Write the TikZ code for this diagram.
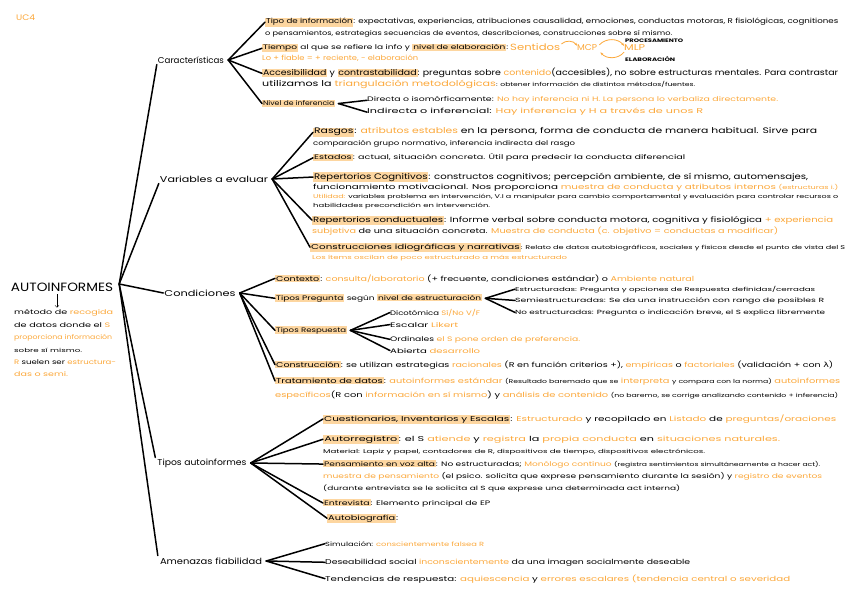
\documentclass[tikz,border=0pt]{standalone}
\usepackage{fontspec}
\setmainfont{Poppins}
\newfontfamily\griega{DejaVu Sans}
\usepackage{graphicx}
\usetikzlibrary{arrows.meta, positioning}
\definecolor{notanaranja}{RGB}{252,168,58}
\definecolor{resaltado}{RGB}{253,214,160}
\newsavebox{\cajalinea}
\newcommand{\og}[1]{\textcolor{notanaranja}{#1}}
\newcommand{\hl}[1]{{\setlength{\fboxsep}{0.7pt}\colorbox{resaltado}{#1}}}
\newcommand{\tam}[1]{\fontsize{#1}{#1}\selectfont}

\begin{document}
\begin{tikzpicture}[
    x=1pt, y=-1pt,
    ancho/.style={execute at begin node={\setbox\cajalinea=\hbox\bgroup},
                  execute at end node={\egroup\resizebox{#1pt}{\height}{\usebox{\cajalinea}}}},
    linea/.style={anchor=base west, inner sep=0pt, font=\tam{7}, ancho=#1},
    tema/.style={font=\tam{8.5}, inner sep=1pt, ancho=#1},
    rama/.style={line width=1.5pt, line cap=round},
    flecha/.style={-{Stealth[length=3pt]}, notanaranja, line width=0.8pt}
]
    \useasboundingbox (0,0) rectangle (848,599);
    \fill[white] (0,0) rectangle (848,599);

    % raiz
    \node[linea=19, font=\tam{8}, text=notanaranja] (uc) at (16,21) {UC4};
    \node[font=\tam{12}, inner sep=1pt, ancho=102] (auto) at (62,287) {AUTOINFORMES};
    \node[linea=99, font=\tam{6.5}] (d1) at (14,314) {método de \og{recogida}};
    \node[linea=96, font=\tam{6.5}] (d2) at (14,327) {de datos donde el \og{S}};
    \node[linea=98, font=\tam{6.5}, text=notanaranja] (d3) at (14,339) {proporciona información};
    \node[linea=68, font=\tam{5.5}] (d4) at (14,352) {sobre sí mismo.};
    \node[linea=102, font=\tam{6.5}] (d5) at (14,364) {\og{R} suelen ser \og{estructura-}};
    \node[linea=54, font=\tam{6.5}, text=notanaranja] (d6) at (14,376) {das o semi.};
    \draw[-{Straight Barb[length=2pt]}, line width=0.5pt] ([xshift=-5pt, yshift=-2pt]auto.south) -- ([xshift=-5pt, yshift=1pt]auto.south |- d1.north);
    \coordinate (raiz) at ([xshift=5pt, yshift=3pt]auto.east);

    % temas
    \node[tema=66] (car) at (191,60) {Características};
    \node[tema=108] (var) at (214,179) {Variables a evaluar};
    \node[tema=71] (cond) at (200,293) {Condiciones};
    \node[tema=89] (tipos) at (202,463) {Tipos autoinformes};
    \node[tema=102] (amen) at (211,561) {Amenazas fiabilidad};
    \draw[rama] (raiz) -- (car.south west);
    \draw[rama] (raiz) -- (var.south west);
    \draw[rama] (raiz) -- (cond.west);
    \draw[rama] (raiz) -- ([xshift=-1pt]tipos.north west);
    \draw[rama] (raiz) -- ([xshift=-1pt, yshift=1pt]amen.north west);

    % Caracteristicas
    \node[linea=573] (tipo) at (265,24) {\hl{Tipo de información}: expectativas, experiencias, atribuciones causalidad, emociones, conductas motoras, R fisiológicas, cognitiones};
    \node[linea=407, font=\tam{6.5}] (tipoB) at (265,36) {o pensamientos, estrategias secuencias de eventos, describciones, construcciones sobre sí mismo.};
    \node[linea=246, font=\tam{6.5}] (tiempo) at (262,50) {\hl{Tiempo} al que se refiere la info y \hl{nivel de elaboración}:};
    \node[linea=50, font=\tam{9}, text=notanaranja] (sentidos) at (510,51) {Sentidos};
    \node[linea=20, font=\tam{8.5}, text=notanaranja] (mcp) at (577,51) {MCP};
    \node[linea=21, font=\tam{8.5}, text=notanaranja] (mlp) at (624,51) {MLP};
    \node[linea=58, font=\tam{5}\bfseries] (proc) at (625,43) {PROCESAMIENTO};
    \node[linea=50, font=\tam{5}\bfseries] (elab) at (625,62) {ELABORACIÓN};
    \draw[flecha] ([xshift=1pt]sentidos.north east) to[bend left=50] ([yshift=-1pt]mcp.north west);
    \draw[flecha] ([xshift=2pt]mcp.north east) to[bend left=50] ([yshift=-1pt]mlp.north west);
    \draw[flecha] ([yshift=-1pt]mlp.south west) to[bend left=50] ([xshift=3pt,yshift=-1pt]mcp.south east);
    \node[linea=156, text=notanaranja] (tiempoB) at (262,61) {Lo + fiable = + reciente, - elaboración};
    \node[linea=576, font=\tam{8}] (acc) at (262,76) {\hl{Accesibilidad} y \hl{contrastabilidad}: preguntas sobre \og{contenido}(accesibles), no sobre estructuras mentales. Para contrastar};
    \node[linea=433, font=\tam{8}] (accB) at (262,87) {utilizamos la \og{triangulación metodológicas}{\tam{5.5}: obtener información de distintos métodos/fuentes.}};
    \node[linea=73, font=\tam{6.5}] (nivel) at (262,106) {\hl{Nivel de inferencia}};
    \node[linea=411, font=\tam{6.5}] (directa) at (367,102) {Directa o isomórficamente: \og{No hay inferencia ni H. La persona lo verbaliza directamente.}};
    \node[linea=336] (indirecta) at (367,114) {Indirecta o inferencial: \og{Hay inferencia y H a través de unos R}};
    \coordinate (carF) at ([xshift=3pt]car.east);
    \foreach \n in {tipo, tiempo, acc, nivel}
        \draw[rama] (carF) -- (\n.west);
    \coordinate (nivelF) at ([xshift=3pt]nivel.east);
    \draw[rama] (nivelF) -- (directa.west);
    \draw[rama] (nivelF) -- (indirecta.west);

    % Variables a evaluar
    \node[linea=504, font=\tam{8}] (rasgos) at (313,134) {\hl{Rasgos}: \og{atributos estables} en la persona, forma de conducta de manera habitual. Sirve para};
    \node[linea=262, font=\tam{6.5}] (rasgosB) at (313,145) {comparación grupo normativo, inferencia indirecta del rasgo};
    \node[linea=372, font=\tam{6.5}] (estados) at (313,160) {\hl{Estados}: actual, situación concreta. Útil para predecir la conducta diferencial};
    \node[linea=495, font=\tam{8}] (cogn) at (313,179) {\hl{Repertorios Cognitivos}: constructos cognitivos; percepción ambiente, de sí mismo, automensajes,};
    \node[linea=525] (cognB) at (313,189) {funcionamiento motivacional. Nos proporciona \og{muestra de conducta y atributos internos {\tam{5.5}(estructuras i.)}}};
    \node[linea=525, font=\tam{5.5}] (cognC) at (313,198) {\og{Utilidad:} variables problema en intervención, V.I a manipular para cambio comportamental y evaluación para controlar recursos o};
    \node[linea=177, font=\tam{5.5}] (cognD) at (313,207) {habilidades precondición en intervención.};
    \node[linea=521, font=\tam{7.5}] (conduc) at (312,222) {\hl{Repertorios conductuales}: Informe verbal sobre conducta motora, cognitiva y fisiológica \og{+ experiencia}};
    \node[linea=466] (conducB) at (312,233) {\og{subjetiva} de una situación concreta. \og{Muestra de conducta (c. objetivo = conductas a modificar)}};
    \node[linea=535] (constr) at (310,249) {\hl{Construcciones idiográficas y narrativas}{\tam{5.5}: Relato de datos autobiográficos, sociales y físicos desde el punto de vista del S}};
    \node[linea=255, font=\tam{5.5}, text=notanaranja] (constrB) at (312,259) {Los ítems oscilan de poco estructurado a más estructurado};
    \coordinate (varF) at ([xshift=3pt]var.east);
    \foreach \n in {rasgos, estados, cogn, conduc, constr}
        \draw[rama] (varF) -- (\n.west);

    % Condiciones
    \node[linea=419] (contexto) at (275,281) {\hl{Contexto}: \og{consulta/laboratorio} (+ frecuente, condiciones estándar) o \og{Ambiente natural}};
    \node[linea=207, font=\tam{6.5}] (tpreg) at (275,300) {\hl{Tipos Pregunta} según \hl{nivel de estructuración}};
    \node[linea=300, font=\tam{5.5}] (estruc) at (515,291) {Estructuradas: Pregunta y opciones de Respuesta definidas/cerradas};
    \node[linea=309, font=\tam{6}] (semi) at (515,302) {Semiestructuradas: Se da una instrucción con rango de posibles R};
    \node[linea=310, font=\tam{6}] (noestr) at (515,314) {No estructuradas: Pregunta o indicación breve, el S explica libremente};
    \node[linea=72, font=\tam{6.5}] (tresp) at (275,332) {\hl{Tipos Respuesta}};
    \node[linea=90, font=\tam{6.5}] (dico) at (390,315) {Dicotómica \og{Sí/No V/F}};
    \node[linea=68, font=\tam{6.5}] (escalar) at (390,327) {Escalar \og{Likert}};
    \node[linea=190, font=\tam{6.5}] (ordin) at (390,341) {Ordinales \og{el S pone orden de preferencia.}};
    \node[linea=90, font=\tam{6.5}] (abierta) at (390,353) {Abierta \og{desarrollo}};
    \node[linea=558] (constru) at (275,367) {\hl{Construcción}: se utilizan estrategias \og{racionales} (R en función criterios +), \og{empíricas} o \og{factoriales} (validación + con {\griega λ})};
    \node[linea=565] (trat) at (275,383) {\hl{Tratamiento de datos}: \og{autoinformes estándar} {\tam{5.5}(Resultado baremado que se} \og{interpreta} {\tam{5.5}y compara con la norma)} \og{autoinformes}};
    \node[linea=563] (tratB) at (275,397) {\og{específicos}(R con \og{información en sí mismo}) y \og{análisis de contenido} {\tam{5.5}(no baremo, se corrige analizando contenido + inferencia)}};
    \coordinate (condF) at ([xshift=3pt]cond.east);
    \foreach \n in {contexto, tpreg, tresp, constru, trat}
        \draw[rama] (condF) -- (\n.west);
    \coordinate (tpregF) at ([xshift=3pt]tpreg.east);
    \foreach \n in {estruc, semi, noestr}
        \draw[rama] (tpregF) -- (\n.west);
    \coordinate (trespF) at ([xshift=3pt]tresp.east);
    \foreach \n in {dico, escalar, ordin, abierta}
        \draw[rama] (trespF) -- (\n.west);

    % Tipos autoinformes
    \node[linea=513] (cuest) at (323,421) {\hl{Cuestionarios, Inventarios y Escalas}: \og{Estructurado} y recopilado en \og{Listado} de \og{preguntas/oraciones}};
    \node[linea=457] (autor) at (323,441) {\hl{Autorregistro}: el S \og{atiende} y \og{registra} la \og{propia conducta} en \og{situaciones naturales.}};
    \node[linea=382, font=\tam{5.5}] (autorB) at (323,453) {Material: Lapiz y papel, contadores de R, dispositivos de tiempo, dispositivos electrónicos.};
    \node[linea=497, font=\tam{6.5}] (pensam) at (323,466) {\hl{Pensamiento en voz alta}: No estructuradas; \og{Monólogo continuo} {\tam{5.5}(registra sentimientos simultáneamente a hacer act).}};
    \node[linea=499, font=\tam{6.5}] (pensamB) at (323,478) {\og{muestra de pensamiento} (el psico. solicita que exprese pensamiento durante la sesión) y \og{registro de eventos}};
    \node[linea=357, font=\tam{6}] (pensamC) at (323,490) {(durante entrevista se le solicita al S que exprese una determinada act interna)};
    \node[linea=167, font=\tam{6.5}] (entrev) at (323,505) {\hl{Entrevista}: Elemento principal de EP};
    \node[linea=71] (autobio) at (327,520) {\hl{Autobiografía}:};
    \coordinate (tiposF) at ([xshift=3pt]tipos.east);
    \foreach \n in {cuest, autor, pensam, entrev, autobio}
        \draw[rama] (tiposF) -- (\n.west);

    % Amenazas fiabilidad
    \node[linea=159, font=\tam{6}] (simul) at (325,546) {Simulación: \og{conscientemente falsea R}};
    \node[linea=365] (deseab) at (325,564) {Deseabilidad social \og{inconscientemente} da una imagen socialmente deseable};
    \node[linea=465] (tenden) at (325,581) {Tendencias de respuesta: \og{aquiescencia} y \og{errores escalares (tendencia central o severidad}};
    \coordinate (amenF) at ([xshift=3pt]amen.east);
    \foreach \n in {simul, deseab, tenden}
        \draw[rama] (amenF) -- (\n.west);
\end{tikzpicture}
\end{document}
